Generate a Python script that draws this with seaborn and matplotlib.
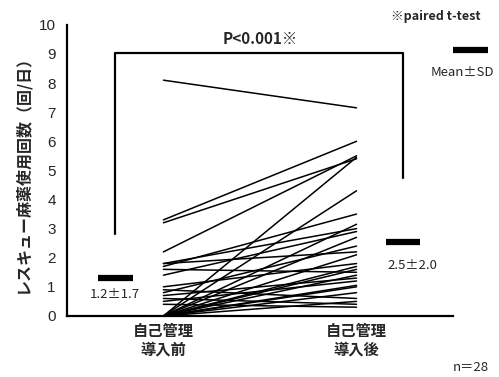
import pandas as pd
import seaborn as sns
import matplotlib.pyplot as plt

# donnees (28 patients)
avant = [8.1, 3.3, 3.2, 2.2, 1.8, 1.8, 1.7, 1.6, 1.4, 1.0, 0.9, 0.8, 0.7, 0.6,
         0.5, 0.4, 0, 0, 0, 0, 0, 0, 0, 0, 0, 0, 0, 0]
apres = [7.15, 6.0, 5.4, 5.5, 3.0, 2.2, 3.5, 1.5, 2.9, 1.8, 0.6, 2.4, 1.3, 0.4,
         1.2, 0.3, 5.45, 4.3, 3.15, 2.7, 2.1, 1.7, 1.6, 1.4, 1.05, 1.0, 0.8, 0.5]
categories = ["自己管理\n導入前", "自己管理\n導入後"]
moyennes = [1.3, 2.55]
etiquettes_moy = ["1.2±1.7", "2.5±2.0"]

sns.set_style("white")
plt.rcParams["font.family"] = ["Noto Sans CJK JP", "DejaVu Sans"]

n = len(avant)
df = pd.DataFrame({
    "id": list(range(n)) * 2,
    "phase": [0] * n + [1] * n,
    "valeur": avant + apres,
})

fig = plt.figure(figsize=(4.99, 3.77), dpi=100)
ax = fig.add_axes([0.134, 0.162, 0.774, 0.772])

sns.lineplot(data=df, x="phase", y="valeur", units="id", estimator=None,
             color="black", linewidth=1.1, ax=ax, legend=False)

# barres des moyennes
ax.plot([-0.34, -0.16], [moyennes[0]] * 2, color="black", lw=4.5, solid_capstyle="butt")
ax.plot([1.15, 1.33], [moyennes[1]] * 2, color="black", lw=4.5, solid_capstyle="butt")
ax.text(-0.25, 0.72, etiquettes_moy[0], ha="center", va="center", fontsize=9.5)
ax.text(1.29, 1.72, etiquettes_moy[1], ha="center", va="center", fontsize=9.5)

# crochet du test
ax.plot([-0.25, -0.25, 1.24, 1.24], [2.8, 9.05, 9.05, 4.75], color="black", lw=1.6,
        clip_on=False)
ax.text(0.5, 9.52, "P<0.001※", ha="center", va="center", fontsize=11, fontweight="bold")

# legende
ax.text(1.41, 10.3, "※paired t-test", ha="center", va="center", fontsize=9,
        fontweight="bold", clip_on=False)
ax.plot([1.50, 1.68], [9.14, 9.14], color="black", lw=4.5, solid_capstyle="butt",
        clip_on=False)
ax.text(1.55, 8.35, "Mean±SD", ha="center", va="center", fontsize=9.5, clip_on=False)
fig.text(0.943, 0.025, "n＝28", ha="center", va="center", fontsize=9.5)

ax.set_xlim(-0.5, 1.5)
ax.set_ylim(0, 10)
ax.set_yticks(range(0, 11))
ax.set_xticks([-0.5, 0.5, 1.5])
ax.set_xticklabels([])
ax.set_xticks([0, 1], minor=True)
ax.set_xticklabels(categories, minor=True, fontsize=11, fontweight="bold")
ax.tick_params(axis="x", which="minor", length=0, pad=5)
ax.tick_params(axis="x", which="major", length=4, width=1.2, direction="inout")
ax.tick_params(axis="y", length=4, width=1.5, direction="out", labelsize=11, pad=4)
for lab in ax.get_yticklabels():
    lab.set_family(["Liberation Sans", "DejaVu Sans"])
ax.set_xlabel("")
ax.set_ylabel("レスキュー麻薬使用回数（回/日）", fontsize=11.5, fontweight="bold", labelpad=6)

sns.despine(ax=ax)
for s in ["left", "bottom"]:
    ax.spines[s].set_linewidth(1.6)
    ax.spines[s].set_color("black")

fig.savefig("out.png", dpi=100)
